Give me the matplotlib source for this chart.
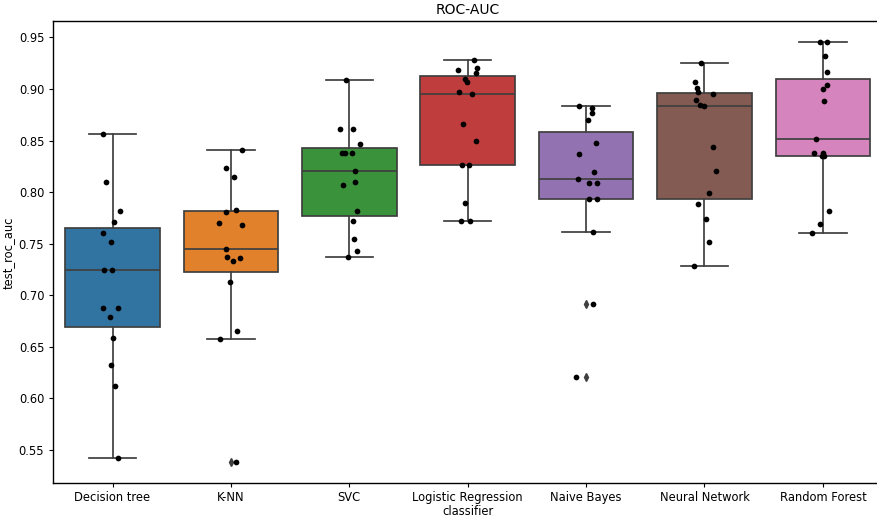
import numpy as np
import matplotlib
matplotlib.use("Agg")
import matplotlib.pyplot as plt

classifiers = ["Decision tree", "K-NN", "SVC", "Logistic Regression",
               "Naive Bayes", "Neural Network", "Random Forest"]

decision_tree = [0.856, 0.810, 0.782, 0.771, 0.760, 0.752, 0.7246, 0.7246,
                 0.6872, 0.6872, 0.679, 0.659, 0.632, 0.612, 0.5425]
knn = [0.8406, 0.8238, 0.815, 0.783, 0.781, 0.7696, 0.768, 0.7444,
       0.737, 0.736, 0.7328, 0.713, 0.6653, 0.658, 0.538]
svc = [0.9087, 0.8615, 0.8615, 0.847, 0.838, 0.838, 0.838, 0.8202,
       0.810, 0.807, 0.782, 0.772, 0.7547, 0.743, 0.7366]
logreg = [0.9284, 0.9206, 0.9187, 0.9158, 0.910, 0.9064, 0.897, 0.8948,
          0.8657, 0.8499, 0.8264, 0.8264, 0.7895, 0.7721, 0.7721]
naive_bayes = [0.8835, 0.8812, 0.8767, 0.8696, 0.8476, 0.8367, 0.8193, 0.8131,
               0.8093, 0.8093, 0.7938, 0.7938, 0.7614, 0.6914, 0.621]
neural_net = [0.9248, 0.9064, 0.9006, 0.897, 0.8948, 0.889, 0.8848, 0.8832,
              0.8435, 0.8202, 0.7996, 0.788, 0.774, 0.7512, 0.7279]
random_forest = [0.9452, 0.9452, 0.9319, 0.9164, 0.9038, 0.900, 0.8887, 0.8515,
                 0.838, 0.838, 0.835, 0.835, 0.782, 0.769, 0.7608]

series = [decision_tree, knn, svc, logreg, naive_bayes, neural_net, random_forest]
colors = ["#3274a1", "#e1812c", "#3a923a", "#c03d3e", "#9372b2", "#845b53", "#d684bd"]
line_gray = "#3f3f3f"
lw = 1.25

fig = plt.figure(figsize=(8.77, 5.19), dpi=100)
ax = fig.add_axes([0.0608, 0.0688, 0.945, 0.890])

pos = np.arange(len(classifiers))
bp = ax.boxplot(series, positions=pos, widths=0.8, patch_artist=True, whis=1.5,
                capwidths=0.4,
                boxprops=dict(edgecolor=line_gray, linewidth=lw),
                medianprops=dict(color=line_gray, linewidth=lw),
                whiskerprops=dict(color=line_gray, linewidth=lw),
                capprops=dict(color=line_gray, linewidth=lw),
                flierprops=dict(marker="d", markerfacecolor=line_gray,
                                markeredgecolor=line_gray, markersize=4.2))
for patch, c in zip(bp["boxes"], colors):
    patch.set_facecolor(c)

rng = np.random.default_rng(3)
for i, vals in enumerate(series):
    jit = rng.uniform(-0.1, 0.1, len(vals))
    ax.scatter(pos[i] + jit, vals, s=17, color="black", zorder=5, linewidths=0)

for side in ax.spines.values():
    side.set_linewidth(1.0)
ax.set_xticks(pos)
ax.set_xticklabels(classifiers)
ax.set_xlim(-0.5, len(classifiers) - 0.5)
ax.set_ylim(0.5176, 0.9656)
ax.set_yticks([0.55, 0.60, 0.65, 0.70, 0.75, 0.80, 0.85, 0.90, 0.95])
ax.tick_params(labelsize=8.3, width=0.8, length=3)
ax.tick_params(axis="x", pad=2.5)
ax.set_xlabel("classifier", fontsize=8.3, labelpad=1)
ax.set_ylabel("test_roc_auc", fontsize=8.3, labelpad=3)
ax.set_title("ROC-AUC", fontsize=10, pad=5)

fig.savefig("out.png", dpi=100)
